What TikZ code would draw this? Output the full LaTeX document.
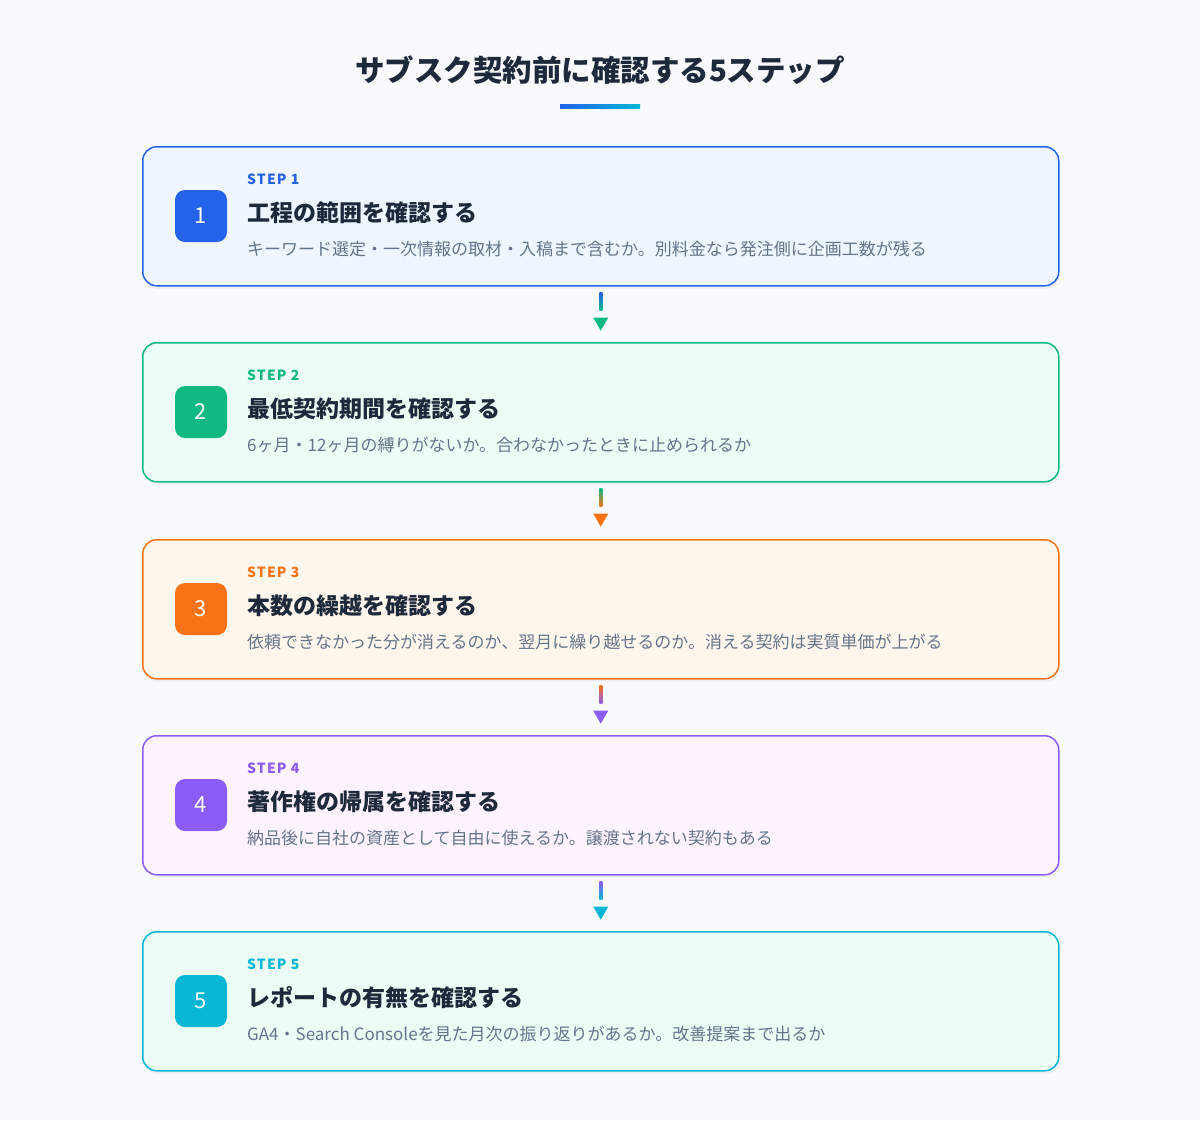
\documentclass[tikz,border=0pt]{standalone}
\usepackage{fontspec}
\setmainfont{Noto Sans CJK JP}
\newfontfamily\spaced[LetterSpace=8]{Noto Sans CJK JP}
\usetikzlibrary{shapes.geometric,calc}
\definecolor{bg}{HTML}{F8FAFC}
\definecolor{ink}{HTML}{1E293B}
\definecolor{gr}{HTML}{64748B}
\definecolor{cA}{HTML}{2563EB}\definecolor{fA}{HTML}{EFF6FF}
\definecolor{cB}{HTML}{10B981}\definecolor{fB}{HTML}{ECFDF5}
\definecolor{cC}{HTML}{F97316}\definecolor{fC}{HTML}{FFF7ED}
\definecolor{cD}{HTML}{8B5CF6}\definecolor{fD}{HTML}{FDF4FF}
\definecolor{cE}{HTML}{06B6D4}\definecolor{fE}{HTML}{ECFDF5}
\tikzset{
 box/.style={draw=#1,line width=1.5pt,rounded corners=14pt,minimum width=916pt,minimum height=139pt,anchor=north west,inner sep=0pt},
 num/.style={fill=#1,rounded corners=10pt,minimum size=52pt,inner sep=0pt,text=white,font=\fontsize{22}{22}\selectfont},
 steplbl/.style={text=#1,anchor=west,inner sep=0pt,font=\fontsize{14}{14}\selectfont\spaced\bfseries},
 ttl/.style={text=ink,anchor=west,inner sep=0pt,font=\fontsize{23}{23}\selectfont\bfseries},
 desc/.style={text=gr,anchor=west,inner sep=0pt,font=\fontsize{17}{17}\selectfont},
 tri/.style={isosceles triangle,shape border rotate=-90,isosceles triangle apex angle=60,fill=#1,inner sep=0pt,minimum width=15pt,minimum height=13pt}
}
\begin{document}
\begin{tikzpicture}[x=1pt,y=-1pt]
\fill[bg] (0,0) rectangle (1200,1120);
\useasboundingbox (0,0) rectangle (1200,1120);
\node[text=ink,font=\fontsize{29.5}{29.5}\selectfont\bfseries] (title) at (600,70) {サブスク契約前に確認する5ステップ};
\shade[left color=cA,right color=cE] (560,104.5) rectangle (640,108);
\foreach \i/\c/\f/\y/\t/\d in {
 1/cA/fA/146/工程の範囲を確認する/キーワード選定・一次情報の取材・入稿まで含むか。別料金なら発注側に企画工数が残る,
 2/cB/fB/342/最低契約期間を確認する/6ヶ月・12ヶ月の縛りがないか。合わなかったときに止められるか,
 3/cC/fC/539/本数の繰越を確認する/依頼できなかった分が消えるのか、翌月に繰り越せるのか。消える契約は実質単価が上がる,
 4/cD/fD/735/著作権の帰属を確認する/納品後に自社の資産として自由に使えるか。譲渡されない契約もある,
 5/cE/fE/931/レポートの有無を確認する/GA4・Search Consoleを見た月次の振り返りがあるか。改善提案まで出るか}{
 \fill[black,opacity=0.04,rounded corners=14pt] (144,\y+4) rectangle (1060,\y+143);
 \node[box=\c,fill=\f] (b\i) at (142,\y) {};
 \node[num=\c] (n\i) at (201,\y+70) {\i};
 \node[steplbl=\c] (s\i) at (247,\y+33) {STEP \i};
 \node[ttl] (t\i) at (247,\y+67) {\t};
 \node[desc] (d\i) at (247,\y+103) {\d};
}
\foreach \a/\b/\ca/\cb in {1/2/cA/cB,2/3/cB/cC,3/4/cC/cD,4/5/cD/cE}{
 \coordinate (p\a) at ($(b\a.south)+(0,6)$);
 \coordinate (q\a) at ($(b\a.south)+(0,24)$);
 \shade[top color=\ca,bottom color=\cb] ($(p\a)+(-1.5,0)$) rectangle ($(q\a)+(1.5,0)$);
 \node[tri=\cb,anchor=north] (a\a) at ($(b\a.south)+(0,31)$) {};
}
\end{tikzpicture}
\end{document}
